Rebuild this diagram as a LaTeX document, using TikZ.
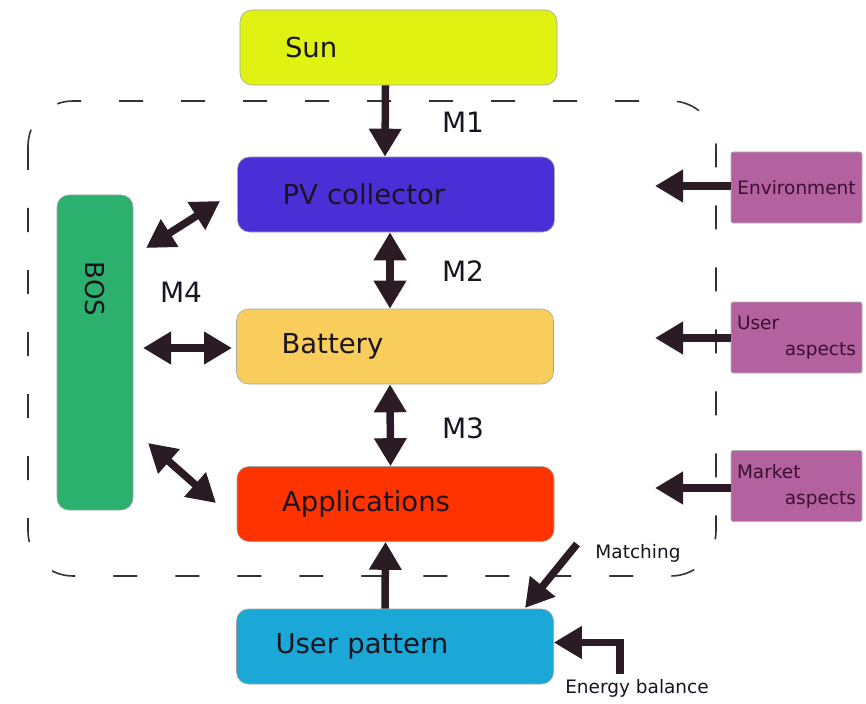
\documentclass[tikz,border=0pt]{standalone}
\usepackage{fontspec}
\setmainfont{DejaVu Sans}
\usetikzlibrary{arrows.meta,calc}
\definecolor{sunc}{HTML}{DFF212}
\definecolor{pvc}{HTML}{4B2FD6}
\definecolor{batc}{HTML}{F8CD5C}
\definecolor{appc}{HTML}{FF3300}
\definecolor{upc}{HTML}{1BA8D6}
\definecolor{bosc}{HTML}{2CB06D}
\definecolor{purc}{HTML}{B4629F}
\definecolor{purt}{HTML}{3A0F30}
\definecolor{arrc}{HTML}{2A1B24}
\definecolor{txtc}{HTML}{1A1420}
\tikzset{
  mainbox/.style={rectangle, rounded corners=12pt, draw=black!35, line width=0.6pt,
    minimum width=317pt, minimum height=75pt, inner xsep=45pt, text width=227pt,
    align=left, font=\fontsize{27.5}{32}\selectfont, text=txtc},
  sidebox/.style={rectangle, rounded corners=2pt, draw=black!30, fill=purc, line width=0.6pt,
    minimum width=131pt, minimum height=71pt, inner xsep=6pt, text width=119pt,
    font=\fontsize{18.5}{26}\selectfont, text=purt},
  bigarr/.style={draw=arrc, line width=7.5pt, -{Triangle[length=28pt,width=31pt]}},
  dblarr/.style={draw=arrc, line width=7.5pt, {Triangle[length=28pt,width=31pt]}-{Triangle[length=28pt,width=31pt]}},
  mlabel/.style={font=\fontsize{28}{32}\selectfont, text=txtc},
  slabel/.style={font=\fontsize{18.5}{22}\selectfont, text=txtc},
  dashbox/.style={draw=black!80, line width=1.6pt, dash pattern=on 24pt off 38pt, rounded corners=45pt}
}
\begin{document}
\begin{tikzpicture}[x=1pt,y=-1pt]
\useasboundingbox (0,0) rectangle (866,703);
% dashed system boundary
\draw[dashbox] (28,101) rectangle (716,576);
% main boxes
\node[mainbox, fill=sunc] (sun) at (398.5,47.5) {Sun};
\node[mainbox, fill=pvc] (pv) at (396,194.5) {PV collector};
\node[mainbox, fill=batc] (bat) at (395,346.5) {Battery};
\node[mainbox, fill=appc] (app) at (395.5,504) {Applications};
\node[mainbox, fill=upc, inner xsep=39pt, text width=239pt] (up) at (395,646.5) {User pattern};
% BOS
\node[rectangle, rounded corners=12pt, draw=black!35, fill=bosc, line width=0.6pt,
  minimum width=76pt, minimum height=315pt] (bos) at (95,352.5) {};
\node[font=\fontsize{26}{30}\selectfont, text=txtc, rotate=-90] (bostxt) at (95,289) {BOS};
% side boxes
\node[sidebox, align=center] (env) at (796.5,187.5) {Environment};
\node[sidebox, align=left] (usa) at (796.5,337.5) {User\\\makebox[\linewidth][r]{aspects}};
\node[sidebox, align=left] (mka) at (796.5,486) {Market\\\makebox[\linewidth][r]{aspects}};
% labels
\node[mlabel] (m1) at (463,122) {M1};
\node[mlabel] (m2) at (463,271) {M2};
\node[mlabel] (m3) at (463,428) {M3};
\node[mlabel] (m4) at (181,292) {M4};
\node[slabel] (match) at (638,553) {Matching};
\node[slabel] (eblab) at (637,688) {Energy balance};
% coordinates for free ends
\coordinate (b1a) at (146,248);
\coordinate (b1b) at (220,201);
\coordinate (b2a) at (143,348);
\coordinate (b2b) at (232,348);
\coordinate (b3a) at (148,443);
\coordinate (b3b) at (216,503);
\coordinate (envend) at (655,186);
\coordinate (usaend) at (655,338);
\coordinate (mkaend) at (655,488);
\coordinate (matchs) at (577,544);
\coordinate (matche) at (525,608);
\coordinate (ebs) at (620,674);
% arrows
\draw[bigarr] ([xshift=-13pt]sun.south) -- ([xshift=-11pt]pv.north);
\draw[dblarr] ([xshift=-6pt]pv.south) -- ([xshift=-5pt]bat.north);
\draw[dblarr] ([xshift=-5pt]bat.south) -- ([xshift=-5pt]app.north);
\draw[bigarr] ([xshift=-10pt]up.north) -- ([xshift=-10pt]app.south);
\draw[bigarr] (matchs) -- (matche);
\draw[bigarr] (ebs) |- ([yshift=4pt]up.east);
\draw[bigarr] (env.west |- envend) -- (envend);
\draw[bigarr] (usa.west |- usaend) -- (usaend);
\draw[bigarr] (mka.west |- mkaend) -- (mkaend);
\draw[dblarr] (b1a) -- (b1b);
\draw[dblarr] (b2a) -- (b2b);
\draw[dblarr] (b3a) -- (b3b);
\end{tikzpicture}
\end{document}
